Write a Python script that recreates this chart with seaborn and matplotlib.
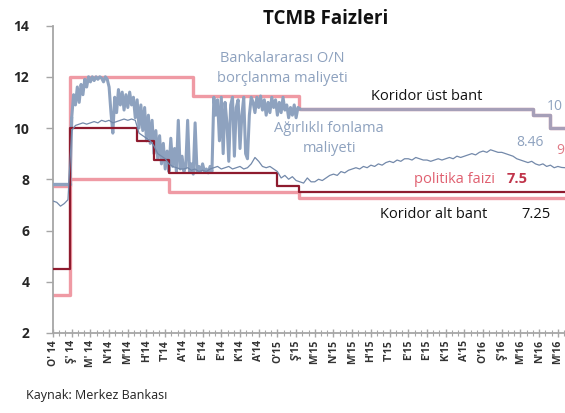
import numpy as np
import pandas as pd
import matplotlib
matplotlib.use("Agg")
import matplotlib.pyplot as plt
from matplotlib.ticker import MultipleLocator
import seaborn as sns

# ---------------- data ----------------
tick_labels = ["O' 14", "Ş' 14", "M' 14", "N'14", "M'14", "H'14", "T'14", "A'14",
               "E'14", "E'14", "K'14", "A'14", "O'15", "Ş'15", "M'15", "N'15",
               "M'15", "H'15", "T'15", "E'15", "E'15", "K'15", "A'15", "O'16",
               "Ş'16", "M'16", "N'16", "M'16"]

# step series: breakpoints (time in tick units) and levels
upper_t = [0.0, 0.91, 7.49, 13.18, 25.67, 26.58, 27.4]
upper_v = [7.75, 12.0, 11.25, 10.75, 10.5, 10.0, 10.0]
lower_t = [0.0, 0.91, 6.20, 13.18, 27.4]
lower_v = [3.5, 8.0, 7.5, 7.25, 7.25]
policy_t = [0.0, 0.91, 4.49, 5.40, 6.20, 11.98, 13.18, 27.4]
policy_v = [4.5, 10.0, 9.5, 8.75, 8.25, 7.75, 7.5, 7.5]

# interbank O/N borrowing cost
on_pre_t = [0.0, 0.9]
on_pre_v = [7.8, 7.8]
on_start, on_step = 1.0, 0.1
on_vals = [10.4, 11.3, 10.9, 11.6, 11.0, 11.7, 11.3, 11.9, 11.6, 12.0,
           11.8, 12.0, 11.85, 12.0, 11.9, 12.0, 11.95, 11.8, 12.0, 11.9,
           11.6, 10.6, 9.8, 11.2, 10.6, 11.5, 10.9, 11.4, 10.7, 11.3,
           10.8, 11.4, 10.9, 11.2, 10.4, 11.1, 10.0, 10.9, 9.9, 10.8,
           9.5, 10.5, 9.4, 10.3, 9.0, 9.9, 8.8, 9.7, 8.6, 9.4,
           8.4, 9.1, 8.3, 9.6, 8.5, 9.2, 8.3, 10.3, 8.4, 8.9,
           8.3, 8.5, 10.3, 8.3, 8.6, 8.2, 10.2, 8.3, 8.5, 8.3,
           8.6, 8.3, 8.4, 8.25, 8.5, 8.3, 11.2, 10.5, 11.1, 9.5,
           11.2, 9.0, 11.0, 10.2, 8.7, 10.9, 11.2, 8.9, 10.8, 11.1,
           9.2, 10.5, 11.2, 9.0, 8.8, 10.5, 11.2, 11.0, 10.6, 11.2,
           10.8, 11.25, 10.7, 11.1, 10.5, 11.0, 10.6, 11.2, 10.8, 11.1,
           10.5, 11.0, 10.6, 11.2, 10.7, 10.9, 10.4, 10.8, 10.5, 10.9,
           10.4, 10.8, 10.75]
on_post_t = [13.2, 25.67, 26.58, 27.4]
on_post_v = [10.75, 10.5, 10.0, 10.0]

# weighted average funding cost
wf_start, wf_step = 0.0, 0.2
wf_vals = [7.15, 7.1, 6.95, 7.05, 7.2, 9.9, 10.1, 10.15, 10.2, 10.15,
           10.2, 10.25, 10.2, 10.3, 10.25, 10.3, 10.2, 10.25, 10.3, 10.35,
           10.3, 10.35, 10.3, 9.8, 9.7, 9.6, 9.5, 9.3, 9.0, 8.9,
           8.8, 8.6, 8.5, 8.45, 8.4, 8.4, 8.45, 8.35, 8.4, 8.3,
           8.35, 8.3, 8.4, 8.45, 8.5, 8.4, 8.45, 8.5, 8.4, 8.45,
           8.5, 8.4, 8.45, 8.6, 8.85, 8.7, 8.5, 8.45, 8.5, 8.4,
           8.3, 8.05, 8.15, 8.0, 8.1, 7.95, 7.9, 7.85, 8.05, 7.9,
           7.9, 8.0, 7.95, 8.05, 8.15, 8.2, 8.15, 8.3, 8.25, 8.35,
           8.4, 8.45, 8.4, 8.5, 8.45, 8.55, 8.5, 8.6, 8.55, 8.65,
           8.7, 8.65, 8.75, 8.7, 8.8, 8.8, 8.75, 8.85, 8.8, 8.75,
           8.75, 8.7, 8.75, 8.8, 8.75, 8.8, 8.85, 8.8, 8.9, 8.85,
           8.9, 8.95, 9.0, 8.95, 9.05, 9.1, 9.05, 9.15, 9.1, 9.05,
           9.05, 9.0, 8.95, 8.9, 8.8, 8.75, 8.7, 8.65, 8.7, 8.6,
           8.55, 8.6, 8.5, 8.55, 8.45, 8.5, 8.46, 8.45]

# ---------------- figure ----------------
sns.set_theme(style="white")
plt.rcParams['font.family'] = ['Open Sans', 'DejaVu Sans']

fig = plt.figure(figsize=(5.65, 4.13), dpi=100)
ax = fig.add_axes([53 / 565, 80 / 413, 1 - 53 / 565, (333 - 25.5) / 413])

PINK = "#ef9aa4"
DARKRED = "#8e1b2e"
ONC = "#8ea2bf"
WFC = "#7389aa"

on_t = on_start + np.arange(len(on_vals)) * on_step
wf_t = wf_start + np.arange(len(wf_vals)) * wf_step

sns.lineplot(x=lower_t, y=lower_v, ax=ax, color=PINK, lw=2.4,
             drawstyle="steps-post", zorder=2)
sns.lineplot(x=upper_t, y=upper_v, ax=ax, color=PINK, lw=2.4,
             drawstyle="steps-post", zorder=2)
sns.lineplot(x=policy_t, y=policy_v, ax=ax, color=DARKRED, lw=1.6,
             drawstyle="steps-post", zorder=4)
sns.lineplot(x=wf_t, y=wf_vals, ax=ax, color=WFC, lw=0.9, zorder=5)
sns.lineplot(x=on_pre_t, y=on_pre_v, ax=ax, color=ONC, lw=2.4, zorder=3)
sns.lineplot(x=[on_pre_t[-1], on_t[0]], y=[on_pre_v[-1], on_vals[0]], ax=ax,
             color=ONC, lw=2.4, zorder=3)
sns.lineplot(x=on_t, y=on_vals, ax=ax, color=ONC, lw=2.2, zorder=3)
sns.lineplot(x=on_post_t, y=on_post_v, ax=ax, color=ONC, lw=2.4, alpha=0.75,
             drawstyle="steps-post", zorder=3)

ax.set_xlim(0, 27.38)
ax.set_ylim(2, 14)
ax.set_xlabel("")
ax.set_ylabel("")

ax.set_yticks([2, 4, 6, 8, 10, 12, 14])
ax.set_yticklabels(["2", "4", "6", "8", "10", "12", "14"])
ax.set_xticks(np.arange(len(tick_labels)))
ax.set_xticklabels(tick_labels, rotation=90)
ax.xaxis.set_minor_locator(MultipleLocator(1 / 3))

for s in ["top", "right"]:
    ax.spines[s].set_visible(False)
for s in ["left", "bottom"]:
    ax.spines[s].set_color("#a6a6a6")
    ax.spines[s].set_linewidth(1.3)

ax.tick_params(axis="y", which="major", direction="out", length=5, width=1,
               color="#a6a6a6", labelsize=10, labelcolor="#262626", pad=12, left=True)
ax.tick_params(axis="x", which="major", direction="inout", length=6, width=1,
               color="#a6a6a6", labelsize=7.5, labelcolor="#333333", pad=2, bottom=True)
ax.tick_params(axis="x", which="minor", direction="inout", length=4, width=0.8,
               color="#a6a6a6", bottom=True)
for lab in ax.get_yticklabels():
    lab.set_fontweight("bold")
for lab in ax.get_xticklabels():
    lab.set_fontweight("bold")

if ax.get_legend():
    ax.get_legend().remove()

# ---------------- texts ----------------
def ptext(x, y, s, **kw):
    fig.text(x / 565, 1 - y / 413, s, **kw)

ptext(326, 19, "TCMB Faizleri", ha="center", va="center",
      fontsize=13.5, fontweight="bold", color="#111111")
ptext(282, 58, "Bankalararası O/N", ha="center", va="center", fontsize=10.5, color=ONC)
ptext(282, 78, "borçlanma maliyeti", ha="center", va="center", fontsize=10.5, color=ONC)
ptext(427, 96, "Koridor üst bant", ha="center", va="center", fontsize=10.5, color="#111111")
ptext(329, 128, "Ağırlıklı fonlama", ha="center", va="center", fontsize=10.5, color=ONC)
ptext(330, 149, "maliyeti", ha="center", va="center", fontsize=10.5, color=ONC)
ptext(516, 142, "8.46", ha="left", va="center", fontsize=10, color=ONC)
ptext(563, 106, "10", ha="right", va="center", fontsize=10, color=ONC)
ptext(564, 151, "9", ha="right", va="center", fontsize=10, color="#e07a86")
ptext(414, 179, "politika faizi", ha="left", va="center", fontsize=10.5, color="#e06070")
ptext(507, 179, "7.5", ha="left", va="center", fontsize=10.5, fontweight="bold", color="#c0344a")
ptext(380, 215, "Koridor alt bant", ha="left", va="center", fontsize=10.5, color="#111111")
ptext(521, 215, "7.25", ha="left", va="center", fontsize=10.5, color="#111111")
ptext(26, 395, "Kaynak: Merkez Bankası", ha="left", va="center", fontsize=9, color="#222222")

fig.savefig("out.png", dpi=100)
